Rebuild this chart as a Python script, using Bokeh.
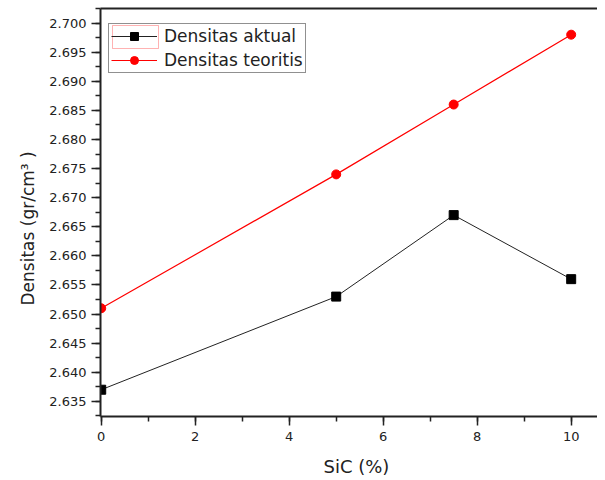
from bokeh.plotting import figure
from bokeh.models import (Range1d, LinearAxis, SingleIntervalTicker, NumeralTickFormatter,
                          Legend, LegendItem, BoxAnnotation, Title)
from bokeh.embed import file_html
from bokeh.resources import INLINE

sic = [0, 5, 7.5, 10]
densitas_aktual = [2.637, 2.653, 2.667, 2.656]
densitas_teoritis = [2.651, 2.674, 2.686, 2.698]
x_label = "SiC (%)"
y_label = "Densitas (gr/cm\u00b3 )"

FONT = "DejaVu Sans"
TXT = "#222222"

p = figure(frame_width=497, frame_height=408, output_backend="svg", toolbar_location=None,
           x_range=Range1d(-0.015, 10.56), y_range=Range1d(2.6324, 2.7025),
           x_axis_location=None, y_axis_location=None,
           min_border_left=100, min_border_top=8, min_border_right=0, min_border_bottom=56)
p.outline_line_color = None
p.grid.visible = False
p.background_fill_color = "white"
p.border_fill_color = "white"

xaxis = LinearAxis(ticker=SingleIntervalTicker(interval=2, num_minor_ticks=2))
yaxis = LinearAxis(ticker=SingleIntervalTicker(interval=0.005, num_minor_ticks=2),
                   formatter=NumeralTickFormatter(format="0.000"))
for ax in (xaxis, yaxis):
    ax.axis_line_color = "#222222"
    ax.axis_line_width = 2
    ax.major_tick_line_color = "#222222"
    ax.major_tick_line_width = 1.5
    ax.minor_tick_line_color = "#222222"
    ax.minor_tick_line_width = 1.5
    ax.major_tick_in = 0
    ax.major_tick_out = 9
    ax.minor_tick_in = 0
    ax.minor_tick_out = 5
    ax.major_label_text_font = FONT
    ax.major_label_text_font_size = "13px"
    ax.major_label_text_color = TXT
xaxis.major_label_standoff = 6
yaxis.major_label_standoff = 5
p.add_layout(xaxis, "below")
p.add_layout(yaxis, "left")

top = LinearAxis(major_tick_out=0, major_tick_in=0, minor_tick_out=0, minor_tick_in=0,
                 major_label_text_font_size="0px", axis_line_color="#222222", axis_line_width=2)
top.major_label_text_alpha = 0
p.add_layout(top, "above")

p.add_layout(Title(text=x_label, align="left", offset=223, standoff=20,
                   text_font=FONT, text_font_size="18px", text_font_style="normal",
                   text_color=TXT), "below")
p.add_layout(Title(text=y_label, align="left", offset=111, standoff=18,
                   text_font=FONT, text_font_size="17px", text_font_style="normal",
                   text_color=TXT), "left")

l1 = p.line(sic, densitas_aktual, line_color="#222222", line_width=1)
m1 = p.scatter(sic, densitas_aktual, marker="square", size=9, fill_color="black", line_color="black")
l2 = p.line(sic, densitas_teoritis, line_color="red", line_width=1.2)
m2 = p.scatter(sic, densitas_teoritis, marker="circle", size=9, fill_color="red", line_color="red")

legend = Legend(items=[LegendItem(label="Densitas aktual", renderers=[l1, m1]),
                       LegendItem(label="Densitas teoritis", renderers=[l2, m2])],
                location=(8, 343), orientation="vertical",
                glyph_width=46, glyph_height=20, label_height=20, label_standoff=7,
                padding=2, spacing=4, margin=0,
                label_text_font=FONT, label_text_font_size="17px", label_text_color=TXT,
                border_line_color="#222222", border_line_width=1.5,
                background_fill_color="white", background_fill_alpha=0)
p.add_layout(legend, "center")

sel = BoxAnnotation(left=12, right=58, top=391, bottom=368, level="overlay",
                    left_units="screen", right_units="screen", top_units="screen", bottom_units="screen",
                    fill_alpha=0, line_color="red", line_width=1)
p.add_layout(sel)

open("out.html", "w").write(file_html(p, INLINE))
